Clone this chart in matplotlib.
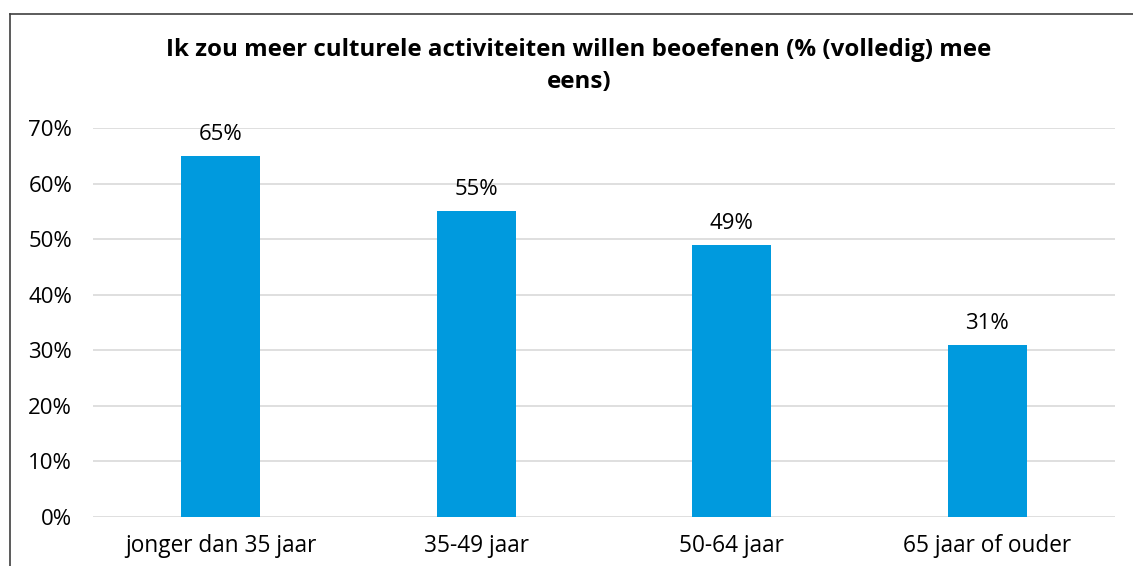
import matplotlib.pyplot as plt
from matplotlib.lines import Line2D
import numpy as np

plt.rcParams['font.family'] = ['Open Sans', 'DejaVu Sans']

# data
categories = ['jonger dan 35 jaar', '35-49 jaar', '50-64 jaar', '65 jaar of ouder']
values = [65, 55, 49, 31]
title = 'Ik zou meer culturele activiteiten willen beoefenen (% (volledig) mee\neens)'

fig = plt.figure(figsize=(11.33, 5.66), dpi=100)
ax = fig.add_axes([93 / 1133, 1 - 517 / 566, 1022 / 1133, 389 / 566])

x = np.arange(len(categories))
ax.bar(x, values, width=0.31, color='#009ADE', zorder=3)

for xi, v in zip(x, values):
    ax.text(xi, v + 2.0, f'{v}%', ha='center', va='bottom', fontsize=16, color='black')

ax.set_xlim(-0.5, len(categories) - 0.5)
ax.set_ylim(0, 70)
ax.set_yticks(np.arange(0, 71, 10))
ax.set_yticklabels([f'{t}%' for t in range(0, 71, 10)], fontsize=16)
ax.set_xticks(x)
ax.set_xticklabels(categories, fontsize=16.3)
ax.tick_params(axis='x', length=0, pad=12)
ax.tick_params(axis='y', length=0, pad=15)

ax.grid(axis='y', color='#D9D9D9', linewidth=1.2, zorder=0)
for s in ax.spines.values():
    s.set_visible(False)

fig.text(579 / 1133, 1 - 66 / 566, title, ha='center', va='center', fontsize=17.4,
         fontweight='bold', linespacing=1.4)

# outer frame (left and top edges)
fig.add_artist(Line2D([10 / 1133, 10 / 1133], [0, 1 - 14 / 566], color='#404040', linewidth=1.2))
fig.add_artist(Line2D([10 / 1133, 1], [1 - 14 / 566, 1 - 14 / 566], color='#404040', linewidth=1.2))

plt.savefig('out.png', dpi=100)
